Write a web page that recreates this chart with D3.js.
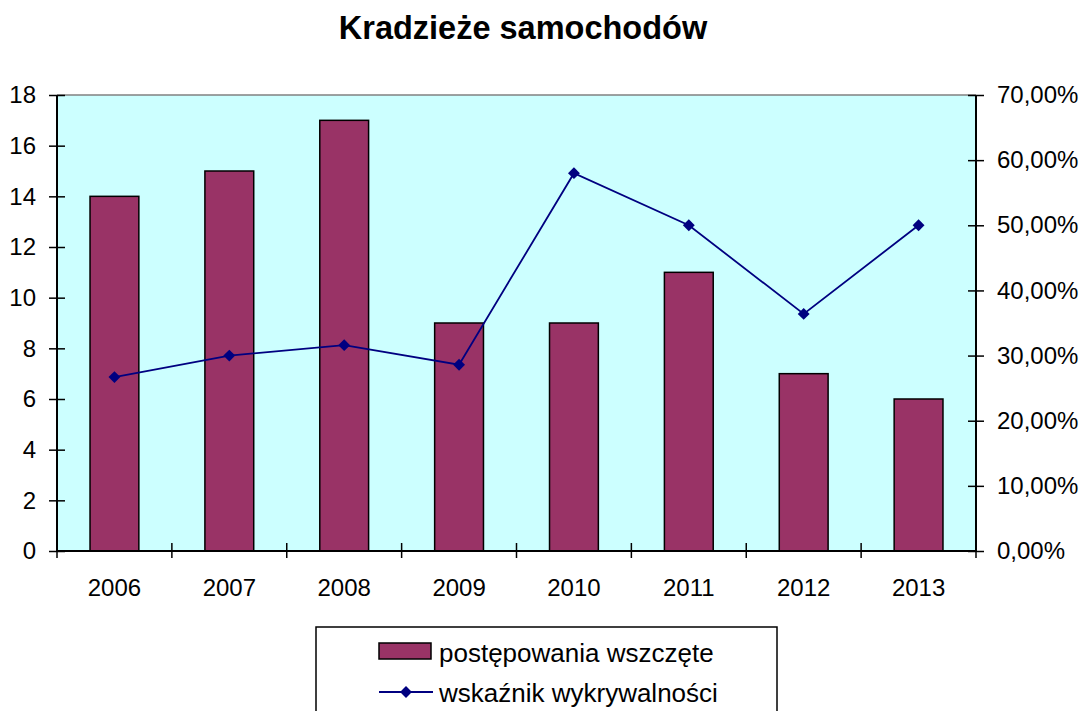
<!DOCTYPE html>
<html>
<head>
<meta charset="utf-8">
<script src="https://cdn.jsdelivr.net/npm/d3@7"></script>
<style>
  body { margin: 0; background: #fff; }
  text { font-family: "Liberation Sans", Arial, sans-serif; fill: #000; }
</style>
</head>
<body>
<div id="chart"></div>
<script>
const width = 1087
const height = 711

// data
const years = ["2006", "2007", "2008", "2009", "2010", "2011", "2012", "2013"]
const cases = [14, 15, 17, 9, 9, 11, 7, 6]
const detection = [0.267, 0.30, 0.316, 0.286, 0.58, 0.50, 0.364, 0.50]
const leftTicks = [0, 2, 4, 6, 8, 10, 12, 14, 16, 18]
const rightTicks = [0, 0.1, 0.2, 0.3, 0.4, 0.5, 0.6, 0.7]

const barColor = "#993366"
const lineColor = "#000080"

const m = {top: 95, right: 111, bottom: 160, left: 57}
const w = width - m.left - m.right
const h = height - m.top - m.bottom

const svg = d3.select("#chart").append("svg")
  .attr("width", width)
  .attr("height", height)

svg.append("text")
  .attr("x", 523)
  .attr("y", 39)
  .attr("text-anchor", "middle")
  .attr("font-size", 32.5)
  .attr("font-weight", "bold")
  .text("Kradzieże samochodów")

const g = svg.append("g").attr("transform", `translate(${m.left},${m.top})`)

// scales
const x = d3.scaleBand().domain(years).range([0, w]).paddingInner(0.575).paddingOuter(0.2875)
const xCat = d3.scaleBand().domain(years).range([0, w])
const y = d3.scaleLinear().domain([0, 18]).range([h, 0])
const y2 = d3.scaleLinear().domain([0, 0.7]).range([h, 0])

// plot background
g.append("rect")
  .attr("width", w)
  .attr("height", h)
  .attr("fill", "#ccffff")
g.append("line")
  .attr("x1", 0).attr("x2", w)
  .attr("y1", 0).attr("y2", 0)
  .attr("stroke", "#808080")
  .attr("stroke-width", 1.5)

// bars
g.selectAll(".bar")
  .data(cases)
  .enter()
  .append("rect")
  .attr("class", "bar")
  .attr("x", (d, i) => x(years[i]))
  .attr("y", d => y(d))
  .attr("width", x.bandwidth())
  .attr("height", d => h - y(d))
  .attr("fill", barColor)
  .attr("stroke", "#000")
  .attr("stroke-width", 1.5)

// line
const line = d3.line()
  .x((d, i) => xCat(years[i]) + xCat.bandwidth() / 2)
  .y(d => y2(d))
g.append("path")
  .attr("d", line(detection))
  .attr("fill", "none")
  .attr("stroke", lineColor)
  .attr("stroke-width", 1.8)
g.selectAll(".pt")
  .data(detection)
  .enter()
  .append("path")
  .attr("class", "pt")
  .attr("d", d3.symbol().type(d3.symbolDiamond2).size(90))
  .attr("transform", (d, i) => `translate(${xCat(years[i]) + xCat.bandwidth() / 2},${y2(d)})`)
  .attr("fill", lineColor)

// left axis
const yAxis = g.append("g")
  .attr("class", "yAxis")
  .call(d3.axisLeft(y).tickValues(leftTicks).tickSize(8).tickPadding(13))
yAxis.selectAll(".tick line").attr("x2", 8).attr("x1", -8)

// right axis
const fmtPct = v => d3.format(".2f")(v * 100).replace(".", ",") + "%"
const y2Axis = g.append("g")
  .attr("class", "y2Axis")
  .attr("transform", `translate(${w},0)`)
  .call(d3.axisRight(y2).tickValues(rightTicks).tickFormat(fmtPct).tickSize(8).tickPadding(13))
y2Axis.selectAll(".tick line").attr("x1", -8).attr("x2", 8)

// bottom axis
const xAxis = g.append("g")
  .attr("class", "xAxis")
  .attr("transform", `translate(0,${h})`)
  .call(d3.axisBottom(xCat).tickSize(0).tickPadding(28))
const bounds = d3.range(years.length + 1).map(i => i * xCat.step())
xAxis.selectAll(".bound")
  .data(bounds)
  .enter()
  .append("line")
  .attr("class", "bound")
  .attr("x1", d => d).attr("x2", d => d)
  .attr("y1", -8).attr("y2", 7)
  .attr("stroke", "#000")
  .attr("stroke-width", 1.5)

// style
d3.selectAll(".domain").attr("stroke", "#000").attr("stroke-width", 2)
d3.selectAll(".tick line").attr("stroke", "#000").attr("stroke-width", 1.5)
d3.selectAll(".tick text").attr("font-size", 24).attr("fill", "#000")
  .attr("font-family", "'Liberation Sans', Arial, sans-serif")
d3.selectAll(".xAxis .domain").attr("d", `M0,0H${w}`)
d3.selectAll(".yAxis .domain").attr("d", `M0,0V${h}`)
d3.selectAll(".y2Axis .domain").attr("d", `M0,0V${h}`)

// legend
const lg = svg.append("g").attr("transform", "translate(316,627)")
lg.append("rect")
  .attr("width", 461)
  .attr("height", 100)
  .attr("fill", "#fff")
  .attr("stroke", "#000")
  .attr("stroke-width", 1.5)
lg.append("rect")
  .attr("x", 63).attr("y", 16)
  .attr("width", 52).attr("height", 16)
  .attr("fill", barColor)
  .attr("stroke", "#000")
  .attr("stroke-width", 1.5)
lg.append("text")
  .attr("x", 123).attr("y", 35)
  .attr("font-size", 26)
  .text("postępowania wszczęte")
lg.append("line")
  .attr("x1", 63).attr("x2", 117)
  .attr("y1", 65).attr("y2", 65)
  .attr("stroke", lineColor)
  .attr("stroke-width", 1.8)
lg.append("path")
  .attr("d", d3.symbol().type(d3.symbolDiamond2).size(90))
  .attr("transform", "translate(90,65)")
  .attr("fill", lineColor)
lg.append("text")
  .attr("x", 123).attr("y", 75)
  .attr("font-size", 26)
  .text("wskaźnik wykrywalności")
</script>
</body>
</html>
